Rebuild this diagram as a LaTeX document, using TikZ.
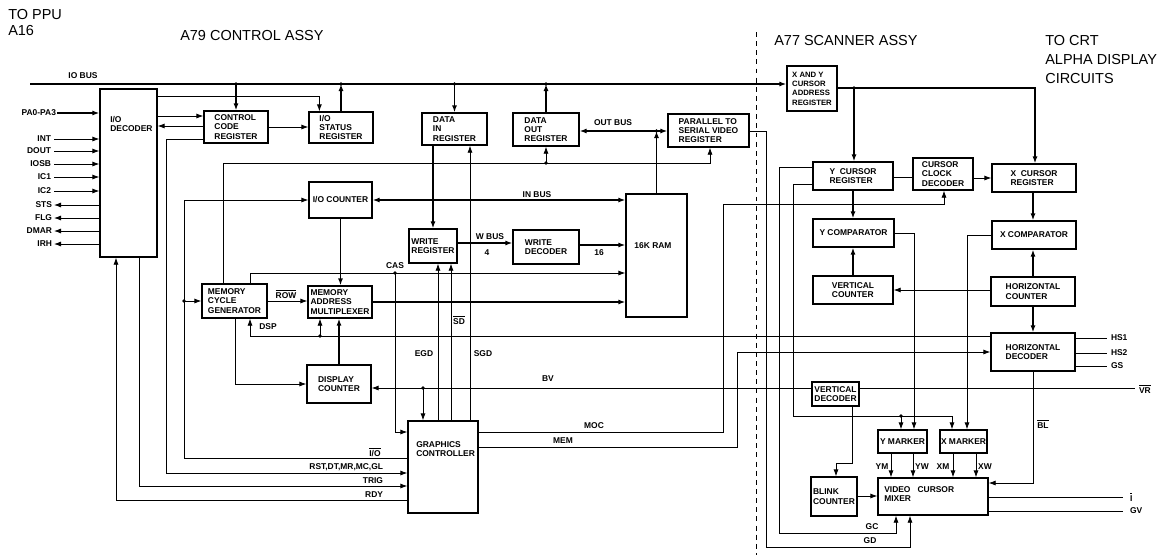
\documentclass[tikz,border=0pt]{standalone}
\usepackage{fontspec}
\setmainfont{Liberation Sans}
\usetikzlibrary{arrows.meta,calc}
\newcommand\myovl[1]{$\overline{\mbox{#1}}$}
\begin{document}
\begin{tikzpicture}[x=0.025cm,y=-0.025cm,
 blk/.style={draw,line width=0.9pt,inner sep=0.5pt,align=left,font=\fontsize{6}{6.6}\selectfont\bfseries},
 sz/.style 2 args={minimum width={#1*0.025cm},minimum height={#2*0.025cm}},
 txt/.style={inner sep=0pt,align=left,font=\fontsize{6}{6.8}\selectfont\bfseries},
 sig/.style={inner sep=0.5pt,font=\fontsize{6}{6}\selectfont\bfseries},
 ttl/.style={inner sep=0pt,align=left,anchor=north west,font=\fontsize{10.3}{13.2}\selectfont},
 ln/.style={line width=0.6pt},
 bus/.style={line width=1.3pt},
 arr/.style={-{Latex[length=5pt,width=3.6pt]}},
]
\useasboundingbox (0,0) rectangle (1168,555);

% ---------- blocks ----------
\node[blk,sz={57}{168}] (dec) at (128.5,173) {};
\node[txt,anchor=north west] (decT) at (110,116) {I/O\\DECODER};
\node[blk,sz={64}{32}] (ccr) at (236,127) {CONTROL\\CODE\\REGISTER};
\node[blk,sz={64}{31}] (isr) at (341,127.5) {I/O\\STATUS\\REGISTER};
\node[blk,sz={65}{32}] (dir) at (454.5,129) {DATA\\IN\\REGISTER};
\node[blk,sz={66}{33}] (dor) at (546,129.5) {DATA\\OUT\\REGISTER};
\node[blk,sz={81}{33}] (psvr) at (708.5,130.5) {PARALLEL TO\\SERIAL VIDEO\\REGISTER};
\node[blk,sz={63}{36}] (ioc) at (340.5,200) {I/O COUNTER};
\node[blk,sz={48}{34}] (wr) at (433,246) {WRITE\\REGISTER};
\node[blk,sz={66}{34}] (wd) at (546,247) {WRITE\\DECODER};
\node[blk,sz={61}{123}] (ram) at (656.5,255.5) {};
\node[txt] (ramT) at (653,246) {16K RAM};
\node[blk,sz={65}{34}] (mcg) at (234.5,301) {MEMORY\\CYCLE\\GENERATOR};
\node[blk,sz={64}{32}] (mam) at (340,302) {MEMORY\\ADDRESS\\MULTIPLEXER};
\node[blk,sz={64}{38}] (dc) at (339,384) {DISPLAY\\COUNTER};
\node[blk,sz={70}{92}] (gc) at (443,467) {};
\node[txt,anchor=north west] (gcT) at (416,441) {GRAPHICS\\CONTROLLER};

\node[blk,sz={50}{45},font=\fontsize{5.5}{6.6}\selectfont\bfseries] (xy) at (812,88.5) {X AND Y\\CURSOR\\ADDRESS\\REGISTER};
\node[blk,sz={80}{28}] (ycr) at (853,176) {Y\ \ CURSOR\\REGISTER};
\node[blk,sz={60}{32}] (ccd) at (943,174) {CURSOR\\CLOCK\\DECODER};
\node[blk,sz={84}{28}] (xcr) at (1034,178) {X\ \ CURSOR\\REGISTER};
\node[blk,sz={81}{28}] (yc) at (853.5,233) {Y COMPARATOR};
\node[blk,sz={84}{28}] (xc) at (1034,235) {X COMPARATOR};
\node[blk,sz={80}{28}] (vc) at (853,290) {VERTICAL\\COUNTER};
\node[blk,sz={84}{29}] (hc) at (1033,291.5) {HORIZONTAL\\COUNTER};
\node[blk,sz={84}{38}] (hd) at (1033,352) {HORIZONTAL\\DECODER};
\node[blk,sz={47}{24}] (vd) at (835.5,394) {VERTICAL\\DECODER};
\node[blk,sz={49}{23}] (ym) at (902.5,441.5) {Y MARKER};
\node[blk,sz={47}{23}] (xm) at (963.5,441.5) {X MARKER};
\node[blk,sz={46}{39}] (bc) at (834,496.5) {BLINK\\COUNTER};
\node[blk,sz={110}{37}] (vcm) at (933,496.5) {};
\node[txt,anchor=north west] (vcmT) at (884,486) {VIDEO\ \ \ CURSOR\\MIXER};

% ---------- titles ----------
\node[ttl,font=\fontsize{10.3}{11.4}\selectfont] (tPPU) at (8,9.5) {TO PPU\\A16};
\node[ttl] (tA79) at (180,30.5) {A79 CONTROL ASSY};
\node[ttl] (tA77) at (774,35.5) {A77 SCANNER ASSY};
\node[ttl] (tCRT) at (1045,35.5) {TO CRT\\ALPHA DISPLAY\\CIRCUITS};
\coordinate (divT) at (756,32);
\coordinate (divB) at (756,555);
\draw[line width=0.6pt,dash pattern=on 3.5pt off 3pt] (divT) -- (divB);

% ---------- IO bus ----------
\coordinate (busL) at (30,84);
\draw[bus,arr] (busL) -- (busL -| xy.west);
\node[sig] (lIOBUS) at (83,76) {IO BUS};
\coordinate (jccr) at (ccr.north |- busL);
\coordinate (jisr) at (isr.north |- busL);
\coordinate (jdir) at (dir.north |- busL);
\coordinate (jdor) at (dor.north |- busL);
\draw[bus,arr] (jccr) -- (ccr.north);
\draw[bus,arr] (isr.north) -- (jisr);
\draw[bus,arr] (jdir) -- (dir.north);
\draw[bus,arr] (dor.north) -- (jdor);
\foreach \c in {jccr,jisr,jdir,jdor} \fill (\c) circle (1.3pt);

% ---------- decoder pins ----------
\coordinate (pPA) at (57,113);
\node[sig,anchor=east] (lPA) at (pPA) {PA0-PA3};
\draw[line width=0.9pt,arr] (pPA) -- (pPA -| dec.west);
\foreach \n/\y in {INT/139,DOUT/151,IOSB/164,IC1/177,IC2/191} {
  \coordinate (p\n) at (54,\y);
  \node[sig,anchor=east] (l\n) at (52,\y) {\n};
  \draw[ln,arr] (p\n) -- (p\n -| dec.west);
}
\foreach \n/\y in {STS/205,FLG/218,DMAR/231,IRH/244} {
  \coordinate (p\n) at (54,\y);
  \node[sig,anchor=east] (l\n) at (53,\y) {\n};
  \draw[ln,arr] (p\n -| dec.west) -- (p\n);
}

% ---------- control side ----------
\draw[ln,arr] ($(dec.north east)+(0,8)$) -| ($(isr.north west)+(11,0)$);
\draw[ln,arr] (dec.east |- 0,116) -- (ccr.west |- 0,116);
\draw[ln,arr] (ccr.west |- 0,126) -- (dec.east |- 0,126);
\draw[ln,arr] (ccr.east |- 0,127) -- (isr.west |- 0,127);
\draw[ln,arr] (ccr.west |- 0,139) -| (166,473) -- (gc.west |- 0,473);
\node[sig,anchor=east] (lRST) at (384,467) {RST,DT,MR,MC,GL};
\draw[ln,arr] (dec.south -| 139,0) |- (gc.west |- 0,486);
\node[sig,anchor=east] (lTRIG) at (384,481) {TRIG};
\draw[ln,arr] (gc.west |- 0,500) -| (dec.south -| 116,0);
\node[sig,anchor=east] (lRDY) at (384,495) {RDY};

\coordinate (jio) at (184,301);
\draw[ln,arr] (gc.west |- 0,458) -| (184,200) -- (ioc.west);
\draw[ln,arr] (jio) -- (mcg.west);
\fill (jio) circle (1.3pt);
\node[sig] (lIO) at (375,452) {\myovl{I/O}};

\coordinate (jcas) at (395,273);
\draw[ln,arr] (mcg.north -| 250,0) |- (ram.west |- jcas);
\draw[ln,arr] (jcas) |- (gc.west |- 0,432);
\fill (jcas) circle (1.3pt);
\node[sig] (lCAS) at (395,266) {CAS};

\coordinate (jdorS) at (dor.south |- 0,163);
\draw[ln,arr] (mcg.north -| 223,0) |- (710,163) -- (psvr.south -| 710,0);
\draw[ln,arr] (jdorS) -- (dor.south);
\fill (jdorS) circle (1.3pt);

\draw[ln,arr] (mcg.east) -- (mcg.east -| mam.west);
\node[sig] (lROW) at (286,294) {\myovl{ROW}};

\draw[bus,arr] (ioc.south) -- (ioc.south |- mam.north);
\draw[bus,arr] (dc.north) -- (dc.north |- mam.south);
\draw[bus,arr] (mam.east) -- (mam.east -| ram.west);

\coordinate (jdsp) at (320,336);
\draw[ln,arr] (hd.west |- jdsp) -| (mcg.south -| 250,0);
\draw[ln,arr] (jdsp) -- (mam.south -| jdsp);
\fill (jdsp) circle (1.3pt);
\node[sig] (lDSP) at (268,327) {DSP};

\draw[ln,arr] (mcg.south -| 235,0) |- (dc.west);

\coordinate (jbv) at (423,388);
\draw[ln,arr] (vd.west |- jbv) -- (dc.east |- jbv);
\draw[ln,arr] (jbv) -- (gc.north -| jbv);
\fill (jbv) circle (1.3pt);
\node[sig] (lBV) at (548,379) {BV};
\coordinate (pVR) at (1135,388);
\draw[ln] (vd.east |- jbv) -- (pVR);
\node[sig,anchor=west] (lVR) at (1138,389) {\myovl{VR}};

\draw[ln,arr] (gc.north -| 438,0) -- (wr.south -| 438,0);
\draw[ln,arr] (gc.north -| 451,0) -- (wr.south -| 451,0);
\draw[ln,arr] (gc.north -| 470,0) -- (dir.south -| 470,0);
\node[sig] (lEGD) at (424,354) {EGD};
\node[sig] (lSD) at (459,320) {\myovl{SD}};
\node[sig] (lSGD) at (483,354) {SGD};

\coordinate (jin) at (433,200);
\draw[bus,arr] (dir.south -| jin) -- (wr.north);
\draw[line width=0.9pt,arr] (jin) -- (ram.west |- jin);
\draw[line width=0.9pt,arr] (jin) -- (ioc.east);
\fill (jin) circle (1.3pt);
\node[sig] (lIN) at (537,195) {IN BUS};

\draw[bus,arr] (wr.east |- 0,243) -- (wd.west |- 0,243);
\node[sig] (lW) at (490,237) {W BUS};
\node[sig] (l4) at (487,253) {4};
\draw[bus,arr] (wd.east |- 0,245) -- (ram.west |- 0,245);
\node[sig] (l16) at (599,253) {16};

\coordinate (jout) at (ram.north |- 0,131);
\draw[bus,arr] (ram.north) -- (jout);
\draw[line width=0.9pt,arr] (jout) -- (jout -| dor.east);
\draw[line width=0.9pt,arr] (jout) -- (jout -| psvr.west);
\fill (jout) circle (1.3pt);
\node[sig] (lOUT) at (613,123) {OUT BUS};

% ---------- scanner side ----------
\coordinate (jxy) at (854,88);
\draw[bus,arr] (xy.east |- jxy) -| (xcr.north -| 1035,0);
\draw[bus,arr] (jxy) -- (ycr.north -| jxy);
\fill (jxy) circle (1.3pt);

\draw[ln] (ycr.east |- 0,177) -- (ccd.west |- 0,177);
\draw[ln,arr] (ccd.east |- 0,178) -- (xcr.west |- 0,178);
\draw[bus,arr] (ycr.south -| 853,0) -- (yc.north -| 853,0);
\draw[bus,arr] (vc.north -| 853,0) -- (yc.south -| 853,0);
\draw[bus,arr] (xcr.south -| 1033,0) -- (xc.north -| 1033,0);
\draw[bus,arr] (hc.north -| 1033,0) -- (xc.south -| 1033,0);
\draw[ln,arr] (hc.west |- 0,290) -- (vc.east |- 0,290);
\draw[bus,arr] (hc.south -| 1033,0) -- (hd.north -| 1033,0);

\foreach \n/\y in {HS1/338,HS2/353,GS/366} {
  \coordinate (p\n) at (1107,\y);
  \draw[ln] (hd.east |- p\n) -- (p\n);
  \node[sig,anchor=west] (l\n) at (1110,\y) {\n};
}

\draw[ln,arr] (gc.east |- 0,432) -| (723,204) -| (ccd.south -| 944,0);
\node[sig] (lMOC) at (594,426) {MOC};
\draw[ln,arr] (gc.east |- 0,447) -| (737,352) -- (hd.west |- 0,352);
\node[sig] (lMEM) at (563,441) {MEM};

\draw[ln,arr] (psvr.east |- jout) -| (766,547) -| (vcm.south -| 910,0);
\node[sig] (lGD) at (870,541) {GD};
\draw[ln,arr] (ycr.west |- 0,167) -| (779,533) -| (vcm.south -| 896,0);
\node[sig] (lGC) at (872,527) {GC};

\coordinate (jym) at (901,416);
\draw[ln,arr] (ycr.west |- 0,184) -| (793,416) -| (xm.north -| 952,0);
\draw[ln,arr] (jym) -- (ym.north -| jym);
\fill (jym) circle (1.3pt);
\draw[ln,arr] (yc.east) -| (ym.north -| 914,0);
\draw[ln,arr] (xc.west) -| (xm.north -| 967,0);

\foreach \x/\m/\n/\lx in {891/ym/YM/882,913/ym/YW/922,953/xm/XM/943,976/xm/XW/985} {
  \draw[ln,arr] (\m.south -| \x,0) -- (vcm.north -| \x,0);
  \node[sig] (l\n) at (\lx,467) {\n};
}

\draw[ln,arr] (hd.south -| 1033,0) |- (vcm.east |- 0,483);
\node[sig] (lBL) at (1043,424) {\myovl{BL}};
\draw[ln,arr] (vd.south -| 852,0) |- (836,463) -- (bc.north -| 836,0);
\draw[ln,arr] (bc.east |- 0,496) -- (vcm.west |- 0,496);

\coordinate (pI) at (1123,497);
\coordinate (pGV) at (1123,511);
\draw[ln] (vcm.east |- pI) -- (pI);
\draw[ln] (vcm.east |- pGV) -- (pGV);
\node[sig,anchor=west] (lI) at (1129,497) {\myovl{I}};
\node[sig,anchor=west] (lGV) at (1129,511) {GV};
\end{tikzpicture}
\end{document}
